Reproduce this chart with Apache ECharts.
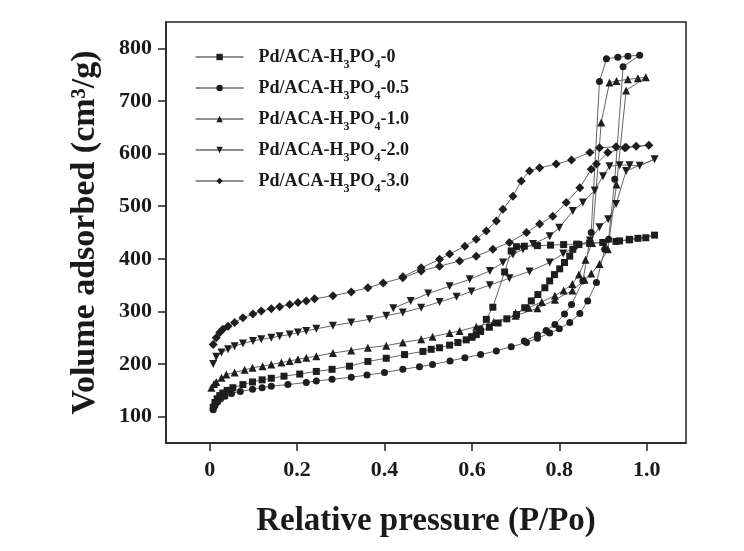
<!DOCTYPE html>
<html><head><meta charset="utf-8">
<script src="https://cdn.jsdelivr.net/npm/echarts@6/dist/echarts.min.js"></script>
<style>html,body{margin:0;padding:0;background:#fff}#c{width:744px;height:551px}</style>
</head><body><div id="c"></div>
<script>
const seriesNames = ['Pd/ACA-H3PO4-0','Pd/ACA-H3PO4-0.5','Pd/ACA-H3PO4-1.0','Pd/ACA-H3PO4-2.0','Pd/ACA-H3PO4-3.0'];
const xTicks = [0, 0.2, 0.4, 0.6, 0.8, 1.0];
const yTicks = [100, 200, 300, 400, 500, 600, 700, 800];

// Pd/ACA-H3PO4-0 (adsorption then desorption)
const p0 = [0.008,0.012,0.017,0.023,0.030,0.040,0.053,0.076,0.098,0.120,0.141,0.170,0.206,0.244,0.280,0.320,0.362,0.404,0.446,0.488,0.507,0.526,0.549,0.568,0.587,0.600,0.610,0.620,0.640,0.660,0.680,0.702,0.721,0.736,0.751,0.767,0.778,0.789,0.801,0.812,0.824,0.831,0.845,0.870,0.900,0.938,0.961,0.980,0.998,1.018,
  0.960,0.930,0.900,0.870,0.840,0.810,0.780,0.750,0.720,0.702,0.690,0.675,0.648,0.633,0.618,0.600];
const v0 = [118,127,134,140,145,150,155,161,166,170,173,177,181,186,190,196,205,211,218,224,228,231,236,241,246,251,256,262,270,278,286,294,307,320,332,345,358,370,381,393,405,418,427,430,431,434,437,439,440,445,
  436,433,431,429,428,427,426,425,424,423,415,375,308,285,266,252];

// Pd/ACA-H3PO4-0.5
const p1 = [0.008,0.012,0.018,0.025,0.035,0.050,0.070,0.098,0.120,0.141,0.179,0.221,0.244,0.280,0.324,0.360,0.400,0.442,0.480,0.510,0.550,0.584,0.620,0.656,0.690,0.725,0.750,0.778,0.800,0.824,0.847,0.865,0.885,0.904,0.913,0.927,0.946,0.984,
  0.957,0.934,0.908,0.892,0.873,0.854,0.828,0.812,0.790,0.770,0.750,0.720];
const v1 = [113,121,128,134,139,144,148,152,155,158,161,165,168,171,175,179,184,190,195,199,206,212,218,225,233,241,249,259,267,279,296,320,355,418,437,551,765,787,
  785,783,780,737,450,358,313,295,275,264,255,244];

// Pd/ACA-H3PO4-1.0
const p2 = [0.004,0.010,0.015,0.027,0.038,0.057,0.080,0.098,0.121,0.141,0.164,0.183,0.202,0.221,0.244,0.282,0.324,0.362,0.404,0.442,0.484,0.510,0.549,0.572,0.610,0.650,0.700,0.750,0.790,0.830,0.858,0.873,0.892,0.911,0.931,0.953,0.998,
  0.980,0.957,0.931,0.915,0.896,0.875,0.860,0.845,0.830,0.810,0.790,0.760,0.730,0.700];
const v2 = [155,162,166,174,180,184,189,193,196,199,203,206,209,212,215,221,226,231,235,241,247,252,259,263,271,280,292,306,322,340,360,372,390,418,541,720,745,
  743,741,738,735,659,430,398,370,352,340,330,318,307,297];

// Pd/ACA-H3PO4-2.0
const p3 = [0.008,0.015,0.027,0.042,0.057,0.076,0.099,0.118,0.141,0.160,0.183,0.202,0.221,0.244,0.282,0.324,0.366,0.404,0.442,0.484,0.526,0.565,0.599,0.641,0.686,0.732,0.778,0.809,0.840,0.870,0.892,0.912,0.930,0.953,1.018,
  0.984,0.961,0.938,0.915,0.900,0.881,0.854,0.831,0.800,0.778,0.740,0.717,0.694,0.671,0.641,0.595,0.549,0.500,0.460,0.420];
const v3 = [200,214,222,228,234,239,244,247,250,253,256,260,263,267,273,279,285,292,298,307,318,328,338,350,363,376,393,410,424,435,460,475,504,567,589,
  577,578,578,576,557,530,507,491,459,443,428,418,408,393,377,361,348,334,320,306];

// Pd/ACA-H3PO4-3.0
const p4 = [0.008,0.015,0.023,0.030,0.042,0.057,0.076,0.099,0.118,0.141,0.160,0.183,0.202,0.221,0.240,0.282,0.324,0.362,0.397,0.442,0.484,0.526,0.572,0.610,0.648,0.686,0.725,0.755,0.785,0.816,0.847,0.873,0.885,0.911,0.950,1.005,
  0.976,0.953,0.930,0.892,0.870,0.828,0.793,0.755,0.732,0.713,0.694,0.671,0.656,0.633,0.610,0.584,0.549,0.526,0.484,0.442];
const v4 = [237,250,260,266,272,279,288,295,301,305,309,313,317,320,324,330,337,345,354,364,377,386,396,405,418,431,450,466,481,507,535,570,580,602,611,616,
  614,612,613,611,602,588,580,573,567,548,519,494,472,453,437,424,409,399,383,366];

const xs = [p0,p1,p2,p3,p4];
const ys = [v0,v1,v2,v3,v4];
const symbols = ['rect','circle','triangle','triangle','diamond'];
const symSizes = [7,7,8,8,9];
const symRot = [0,0,0,180,0];

const FONT = 'Liberation Serif';
const INK = '#1a1a1a';

const series = seriesNames.map((n,i) => ({
  name: n, type: 'line',
  data: xs[i].map((x,j) => [x, ys[i][j]]),
  symbol: symbols[i], symbolSize: symSizes[i], symbolRotate: symRot[i],
  showSymbol: true, showAllSymbol: true,
  lineStyle: {color: '#666', width: 1},
  itemStyle: {color: '#1e1e1e'},
  emphasis: {disabled: true},
  animation: false
}));

const chart = echarts.init(document.getElementById('c'), null, {renderer: 'canvas'});
chart.setOption({
  backgroundColor: '#fff',
  animation: false,
  grid: {left: 166, right: 58, top: 22, bottom: 108, show: true, borderColor: '#222', borderWidth: 1.5, backgroundColor: 'transparent'},
  legend: {
    orient: 'vertical', left: 190, top: 38,
    itemWidth: 48, itemHeight: 8, itemGap: 3,
    data: seriesNames,
    lineStyle: {color: '#222', width: 1.2},
    itemStyle: {color: '#1e1e1e'},
    formatter: n => n.replace('H3PO4', 'H{sub|3}PO{sub|4}'),
    textStyle: {
      fontFamily: FONT, fontWeight: 'bold', fontSize: 18, color: INK, lineHeight: 28,
      padding: [0, 0, 0, 10],
      rich: {sub: {fontFamily: FONT, fontWeight: 'bold', fontSize: 12, color: INK, lineHeight: 15, verticalAlign: 'bottom'}}
    }
  },
  xAxis: {
    type: 'value', min: -0.1, max: 1.09,
    name: 'Relative pressure (P/Po)', nameLocation: 'middle', nameGap: 62,
    nameTextStyle: {fontFamily: FONT, fontWeight: 'bold', fontSize: 33, color: INK},
    axisLine: {show: true, onZero: false, lineStyle: {color: '#222', width: 1.5}},
    axisTick: {show: true, length: 8, lineStyle: {color: '#222', width: 1.5}, customValues: xTicks},
    axisLabel: {margin: 16, fontFamily: FONT, fontWeight: 'bold', fontSize: 22, color: INK,
      customValues: xTicks, formatter: v => v === 0 ? '0' : v.toFixed(1)},
    splitLine: {show: false}
  },
  yAxis: {
    type: 'value', min: 50, max: 850,
    name: 'Volume adsorbed (cm³/g)', nameLocation: 'middle', nameGap: 64, nameRotate: 90,
    nameTextStyle: {fontFamily: FONT, fontWeight: 'bold', fontSize: 34, color: INK},
    axisLine: {show: true, onZero: false, lineStyle: {color: '#222', width: 1.5}},
    axisTick: {show: true, length: 8, lineStyle: {color: '#222', width: 1.5}, customValues: yTicks},
    axisLabel: {margin: 14, fontFamily: FONT, fontWeight: 'bold', fontSize: 22, color: INK,
      customValues: yTicks},
    splitLine: {show: false}
  },
  series: series
});
</script>
</body></html>
